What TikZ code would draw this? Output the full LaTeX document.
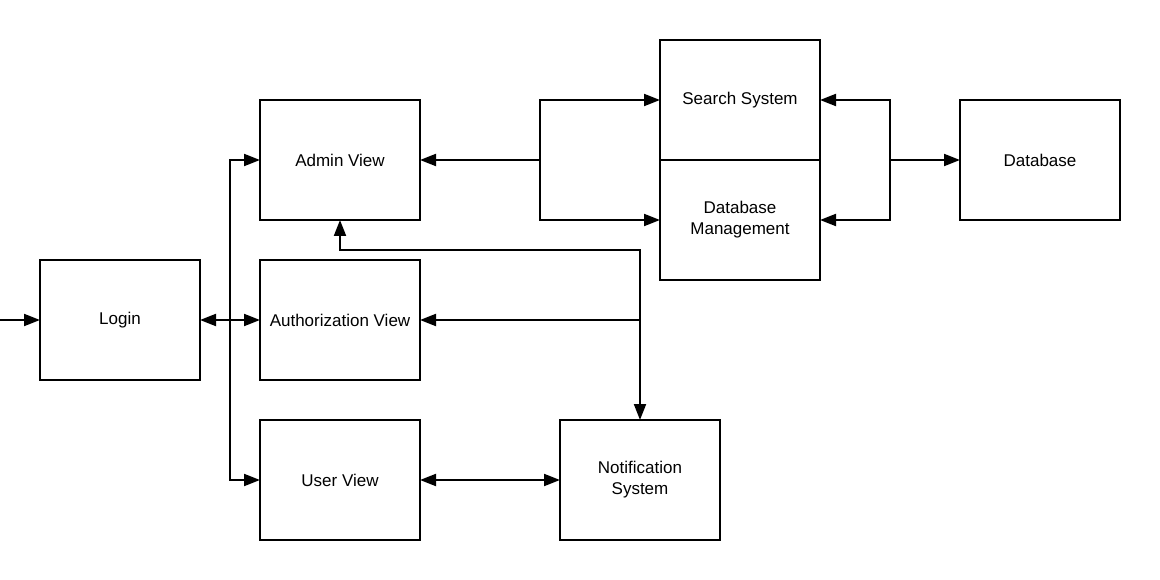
\documentclass[tikz,border=0pt]{standalone}
\usepackage{fontspec}
\setmainfont{Liberation Sans}
\usetikzlibrary{arrows.meta}
\begin{document}
\begin{tikzpicture}[x=1pt,y=-1pt,
  box/.style={draw,line width=2pt,minimum width=160pt,minimum height=120pt,inner sep=0pt,outer sep=0pt,align=center,font=\fontsize{17}{21}\selectfont,anchor=north west},
  conn/.style={line width=2pt},
  tip/.style={-{Triangle[length=16pt,width=12pt]}},
  tips/.style={{Triangle[length=16pt,width=12pt]}-{Triangle[length=16pt,width=12pt]}}]
\useasboundingbox (0,0) rectangle (1160,580);
\node[box] (login) at (40,260) {Login};
\node[box] (admin) at (260,100) {Admin View};
\node[box] (auth) at (260,260) {Authorization View};
\node[box] (user) at (260,420) {User View};
\node[box] (notif) at (560,420) {Notification\\System};
\node[box] (search) at (660,40) {Search System};
\node[box] (dbm) at (660,160) {Database\\Management};
\node[box] (db) at (960,100) {Database};
\coordinate (start) at (0,320);
\coordinate (busL) at (230,320);
\coordinate (busM) at (540,160);
\coordinate (busR) at (890,160);
% entry
\draw[conn,tip] (start) -- (login.west);
% login bus
\draw[conn,tip] (busL) -- (login.east);
\draw[conn,tip] (busL) |- (admin.west);
\draw[conn,tip] (busL) -- (auth.west);
\draw[conn,tip] (busL) |- (user.west);
% admin to search/dbm
\draw[conn,tip] (busM) -- (admin.east);
\draw[conn,tip] (busM) |- (search.west);
\draw[conn,tip] (busM) |- (dbm.west);
% search/dbm to database
\draw[conn,tip] (busR) |- (search.east);
\draw[conn,tip] (busR) |- (dbm.east);
\draw[conn,tip] (busR) -- (db.west);
% notification bus
\draw[conn,tips] (admin.south) -- ++(0,30) -| (notif.north);
\draw[conn,tip] (notif.north |- auth.east) -- (auth.east);
% user <-> notification
\draw[conn,tips] (user.east) -- (notif.west);
\end{tikzpicture}
\end{document}
